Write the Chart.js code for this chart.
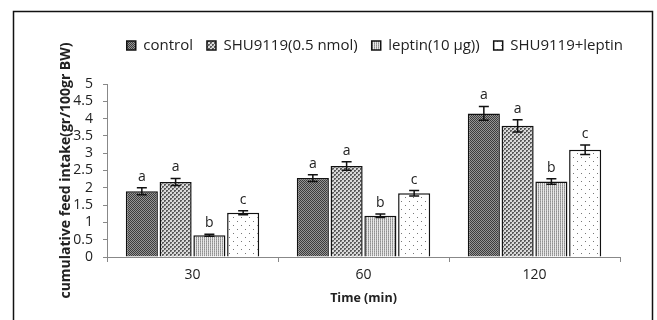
<!DOCTYPE html>
<html>
<head>
<meta charset="utf-8">
<script src="https://cdn.jsdelivr.net/npm/chart.js@4"></script>
<style>
  html, body { margin: 0; padding: 0; background: #fff; }
  #wrap { width: 657px; height: 320px; }
</style>
</head>
<body>
<div id="wrap"><canvas id="chart" width="657" height="320"></canvas></div>
<script>
// data
const times = ['30', '60', '120'];
const seriesNames = ['control', 'SHU9119(0.5 nmol)', 'leptin(10 μg))', 'SHU9119+leptin'];
const control = [1.9, 2.28, 4.15];
const shu = [2.17, 2.63, 3.79];
const leptin = [0.63, 1.19, 2.18];
const combo = [1.28, 1.84, 3.1];
const controlErr = [0.1, 0.1, 0.2];
const shuErr = [0.1, 0.12, 0.18];
const leptinErr = [0.03, 0.05, 0.08];
const comboErr = [0.06, 0.08, 0.14];
const letters = [['a', 'a', 'a'], ['a', 'a', 'a'], ['b', 'b', 'b'], ['c', 'c', 'c']];

// fill patterns
function makePattern(size, draw) {
    let c = document.createElement('canvas');
    c.width = size; c.height = size;
    let g = c.getContext('2d');
    draw(g);
    return document.createElement('canvas').getContext('2d').createPattern(c, 'repeat');
}

const patControl = makePattern(2, g => {
    g.fillStyle = '#959595'; g.fillRect(0, 0, 2, 2);
    g.fillStyle = '#3c3c3c'; g.fillRect(0, 0, 1, 1); g.fillRect(1, 1, 1, 1);
});
const patShu = makePattern(4, g => {
    g.fillStyle = '#dadada'; g.fillRect(0, 0, 4, 4);
    g.fillStyle = '#5a5a5a'; g.fillRect(0, 0, 2, 2); g.fillRect(2, 2, 2, 2);
    g.fillStyle = '#a0a0a0'; g.fillRect(1, 1, 1, 1); g.fillRect(3, 3, 1, 1);
});
const patLeptin = makePattern(2, g => {
    g.fillStyle = '#e8e8e8'; g.fillRect(0, 0, 2, 2);
    g.fillStyle = '#a8a8a8'; g.fillRect(0, 0, 1, 2);
    g.fillStyle = '#909090'; g.fillRect(0, 1, 1, 1);
});
const patCombo = makePattern(8, g => {
    g.fillStyle = '#ffffff'; g.fillRect(0, 0, 8, 8);
    g.fillStyle = '#777'; g.fillRect(1, 1, 1, 1); g.fillRect(5, 5, 1, 1);
});

const values = [control, shu, leptin, combo];
const errors = [controlErr, shuErr, leptinErr, comboErr];
const fills = [patControl, patShu, patLeptin, patCombo];

let datasets = seriesNames.map((name, i) => ({
    label: name,
    data: values[i],
    backgroundColor: fills[i],
    borderColor: '#111',
    borderWidth: 1.5,
    borderSkipped: 'bottom',
    barPercentage: 0.95,
    categoryPercentage: 0.79,
}));

// error bars and significance letters
const errorBars = {
    id: 'errorBars',
    afterDatasetsDraw(chart) {
        let ctx = chart.ctx;
        let y = chart.scales.y;
        ctx.save();
        ctx.strokeStyle = '#111';
        ctx.lineWidth = 1.5;
        ctx.fillStyle = '#222';
        ctx.font = '14px "Open Sans"';
        ctx.textAlign = 'center';
        ctx.textBaseline = 'bottom';
        chart.data.datasets.forEach((ds, i) => {
            chart.getDatasetMeta(i).data.forEach((bar, j) => {
                let v = ds.data[j];
                let e = errors[i][j];
                let top = y.getPixelForValue(v + e);
                let bot = y.getPixelForValue(v - e);
                let x = bar.x;
                ctx.beginPath();
                ctx.moveTo(x, top); ctx.lineTo(x, bot);
                ctx.moveTo(x - 5, top); ctx.lineTo(x + 5, top);
                ctx.moveTo(x - 5, bot); ctx.lineTo(x + 5, bot);
                ctx.stroke();
                ctx.fillText(letters[i][j], x, top - 4);
            });
        });
        ctx.restore();
    }
};

const frame = {
    id: 'frame',
    beforeDraw(chart) {
        let ctx = chart.ctx;
        ctx.save();
        ctx.strokeStyle = '#111';
        ctx.lineWidth = 1.5;
        ctx.beginPath();
        ctx.moveTo(13.5, 320); ctx.lineTo(13.5, 11.5);
        ctx.lineTo(652.5, 11.5); ctx.lineTo(652.5, 320);
        ctx.stroke();
        ctx.restore();
    }
};

// leave room between the legend and the plot, and nudge the legend right
const legendGap = {
    id: 'legendGap',
    beforeInit(chart) {
        let fit = chart.legend.fit;
        chart.legend.fit = function () {
            fit.call(this);
            this.height += 21;
        };
    },
    afterLayout(chart) {
        chart.legend.left += 17;
        chart.legend.right += 17;
    }
};

Chart.defaults.font.family = '"Open Sans", sans-serif';
Chart.defaults.color = '#222';

new Chart(document.getElementById('chart'), {
    type: 'bar',
    data: { labels: times, datasets },
    plugins: [errorBars, frame, legendGap],
    options: {
        responsive: false,
        animation: false,
        layout: { padding: { left: 58, right: 37, top: 24, bottom: 10 } },
        plugins: {
            legend: {
                position: 'top',
                align: 'end',
                labels: {
                    boxWidth: 9,
                    boxHeight: 9,
                    padding: 14,
                    font: { size: 15 },
                    color: '#222',
                },
            },
            tooltip: { enabled: false },
        },
        scales: {
            x: {
                grid: { offset: true, drawOnChartArea: false, tickLength: 5, color: '#888' },
                border: { color: '#888', width: 1 },
                ticks: { font: { size: 14 }, padding: 5 },
                title: { display: true, text: 'Time (min)', font: { size: 12.5, weight: 'bold' }, padding: { top: 3 } },
                afterFit(scale) { scale.height = 53; },
            },
            y: {
                min: 0,
                max: 5,
                ticks: { stepSize: 0.5, autoSkip: false, font: { size: 14 }, padding: 10, callback: v => String(v) },
                grid: { drawOnChartArea: false, tickLength: 4, color: '#888' },
                border: { color: '#888', width: 1 },
                title: { display: true, text: 'cumulative feed intake(gr/100gr BW)', font: { size: 14, weight: 'bold' }, padding: 0 },
                afterFit(scale) { scale.width = 49; },
            },
        },
    },
});
</script>
</body>
</html>
